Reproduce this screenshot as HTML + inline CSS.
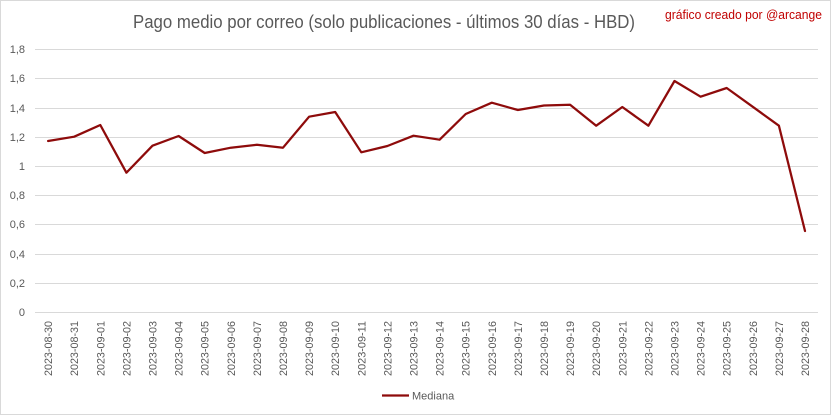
<!DOCTYPE html>
<html>
<head>
<meta charset="utf-8">
<style>
html,body{margin:0;padding:0;background:#fff;}
svg{display:block;}
text{font-family:"Liberation Sans",sans-serif;}
</style>
</head>
<body>
<svg width="833" height="416" viewBox="0 0 833 416" xmlns="http://www.w3.org/2000/svg">
<rect x="0" y="0" width="833" height="416" fill="#fff"/>
<rect x="0.5" y="0.5" width="830" height="414" fill="#fff" stroke="#d9d9d9" stroke-width="1"/>
<text x="384" y="28" font-size="18" fill="#595959" text-anchor="middle" textLength="502" lengthAdjust="spacingAndGlyphs">Pago medio por correo (solo publicaciones - últimos 30 días - HBD)</text>
<text x="665" y="19" font-size="12.5" fill="#c00000" textLength="157" lengthAdjust="spacingAndGlyphs">gráfico creado por @arcange</text>
<g stroke="#d9d9d9" stroke-width="1">
<line x1="35" y1="49.5" x2="818" y2="49.5"/>
<line x1="35" y1="78.5" x2="818" y2="78.5"/>
<line x1="35" y1="108.5" x2="818" y2="108.5"/>
<line x1="35" y1="137.5" x2="818" y2="137.5"/>
<line x1="35" y1="166.5" x2="818" y2="166.5"/>
<line x1="35" y1="195.5" x2="818" y2="195.5"/>
<line x1="35" y1="224.5" x2="818" y2="224.5"/>
<line x1="35" y1="254.5" x2="818" y2="254.5"/>
<line x1="35" y1="283.5" x2="818" y2="283.5"/>
<line x1="35" y1="312.5" x2="818" y2="312.5"/>
</g>
<g font-size="11" fill="#595959" text-anchor="end">
<text x="25" y="53">1,8</text>
<text x="25" y="82">1,6</text>
<text x="25" y="112">1,4</text>
<text x="25" y="141">1,2</text>
<text x="25" y="170">1</text>
<text x="25" y="199">0,8</text>
<text x="25" y="228">0,6</text>
<text x="25" y="258">0,4</text>
<text x="25" y="287">0,2</text>
<text x="25" y="316">0</text>
</g>
<g font-size="11" fill="#595959" text-anchor="end">
<text transform="translate(52.1,321) rotate(-90)" textLength="55" lengthAdjust="spacingAndGlyphs">2023-08-30</text>
<text transform="translate(78.2,321) rotate(-90)" textLength="55" lengthAdjust="spacingAndGlyphs">2023-08-31</text>
<text transform="translate(104.3,321) rotate(-90)" textLength="55" lengthAdjust="spacingAndGlyphs">2023-09-01</text>
<text transform="translate(130.4,321) rotate(-90)" textLength="55" lengthAdjust="spacingAndGlyphs">2023-09-02</text>
<text transform="translate(156.5,321) rotate(-90)" textLength="55" lengthAdjust="spacingAndGlyphs">2023-09-03</text>
<text transform="translate(182.6,321) rotate(-90)" textLength="55" lengthAdjust="spacingAndGlyphs">2023-09-04</text>
<text transform="translate(208.7,321) rotate(-90)" textLength="55" lengthAdjust="spacingAndGlyphs">2023-09-05</text>
<text transform="translate(234.8,321) rotate(-90)" textLength="55" lengthAdjust="spacingAndGlyphs">2023-09-06</text>
<text transform="translate(260.9,321) rotate(-90)" textLength="55" lengthAdjust="spacingAndGlyphs">2023-09-07</text>
<text transform="translate(287.0,321) rotate(-90)" textLength="55" lengthAdjust="spacingAndGlyphs">2023-09-08</text>
<text transform="translate(313.1,321) rotate(-90)" textLength="55" lengthAdjust="spacingAndGlyphs">2023-09-09</text>
<text transform="translate(339.2,321) rotate(-90)" textLength="55" lengthAdjust="spacingAndGlyphs">2023-09-10</text>
<text transform="translate(365.3,321) rotate(-90)" textLength="55" lengthAdjust="spacingAndGlyphs">2023-09-11</text>
<text transform="translate(391.4,321) rotate(-90)" textLength="55" lengthAdjust="spacingAndGlyphs">2023-09-12</text>
<text transform="translate(417.5,321) rotate(-90)" textLength="55" lengthAdjust="spacingAndGlyphs">2023-09-13</text>
<text transform="translate(443.6,321) rotate(-90)" textLength="55" lengthAdjust="spacingAndGlyphs">2023-09-14</text>
<text transform="translate(469.7,321) rotate(-90)" textLength="55" lengthAdjust="spacingAndGlyphs">2023-09-15</text>
<text transform="translate(495.8,321) rotate(-90)" textLength="55" lengthAdjust="spacingAndGlyphs">2023-09-16</text>
<text transform="translate(521.9,321) rotate(-90)" textLength="55" lengthAdjust="spacingAndGlyphs">2023-09-17</text>
<text transform="translate(548.0,321) rotate(-90)" textLength="55" lengthAdjust="spacingAndGlyphs">2023-09-18</text>
<text transform="translate(574.1,321) rotate(-90)" textLength="55" lengthAdjust="spacingAndGlyphs">2023-09-19</text>
<text transform="translate(600.2,321) rotate(-90)" textLength="55" lengthAdjust="spacingAndGlyphs">2023-09-20</text>
<text transform="translate(626.3,321) rotate(-90)" textLength="55" lengthAdjust="spacingAndGlyphs">2023-09-21</text>
<text transform="translate(652.4,321) rotate(-90)" textLength="55" lengthAdjust="spacingAndGlyphs">2023-09-22</text>
<text transform="translate(678.5,321) rotate(-90)" textLength="55" lengthAdjust="spacingAndGlyphs">2023-09-23</text>
<text transform="translate(704.6,321) rotate(-90)" textLength="55" lengthAdjust="spacingAndGlyphs">2023-09-24</text>
<text transform="translate(730.7,321) rotate(-90)" textLength="55" lengthAdjust="spacingAndGlyphs">2023-09-25</text>
<text transform="translate(756.8,321) rotate(-90)" textLength="55" lengthAdjust="spacingAndGlyphs">2023-09-26</text>
<text transform="translate(782.9,321) rotate(-90)" textLength="55" lengthAdjust="spacingAndGlyphs">2023-09-27</text>
<text transform="translate(809.0,321) rotate(-90)" textLength="55" lengthAdjust="spacingAndGlyphs">2023-09-28</text>
</g>
<polyline fill="none" stroke="#8e0b0b" stroke-width="2.25" stroke-linejoin="round" stroke-linecap="round"
points="48.1,141 74.2,136.7 100.3,125 126.4,172.7 152.5,145.7 178.6,136 204.7,153 230.8,147.7 256.9,144.8 283.0,147.7 309.1,116.7 335.2,112 361.3,152.3 387.4,146 413.5,135.7 439.6,139.7 465.7,114 491.8,102.7 517.9,110 544.0,105.5 570.1,104.7 596.2,125.7 622.3,107 648.4,125.7 674.5,81 700.6,96.7 726.7,88 752.8,106.8 778.9,125.7 805.0,231"/>
<line x1="382" y1="395.5" x2="409" y2="395.5" stroke="#8e0b0b" stroke-width="2.25"/>
<text x="412" y="399.5" font-size="11" fill="#595959">Mediana</text>
</svg>
</body>
</html>
